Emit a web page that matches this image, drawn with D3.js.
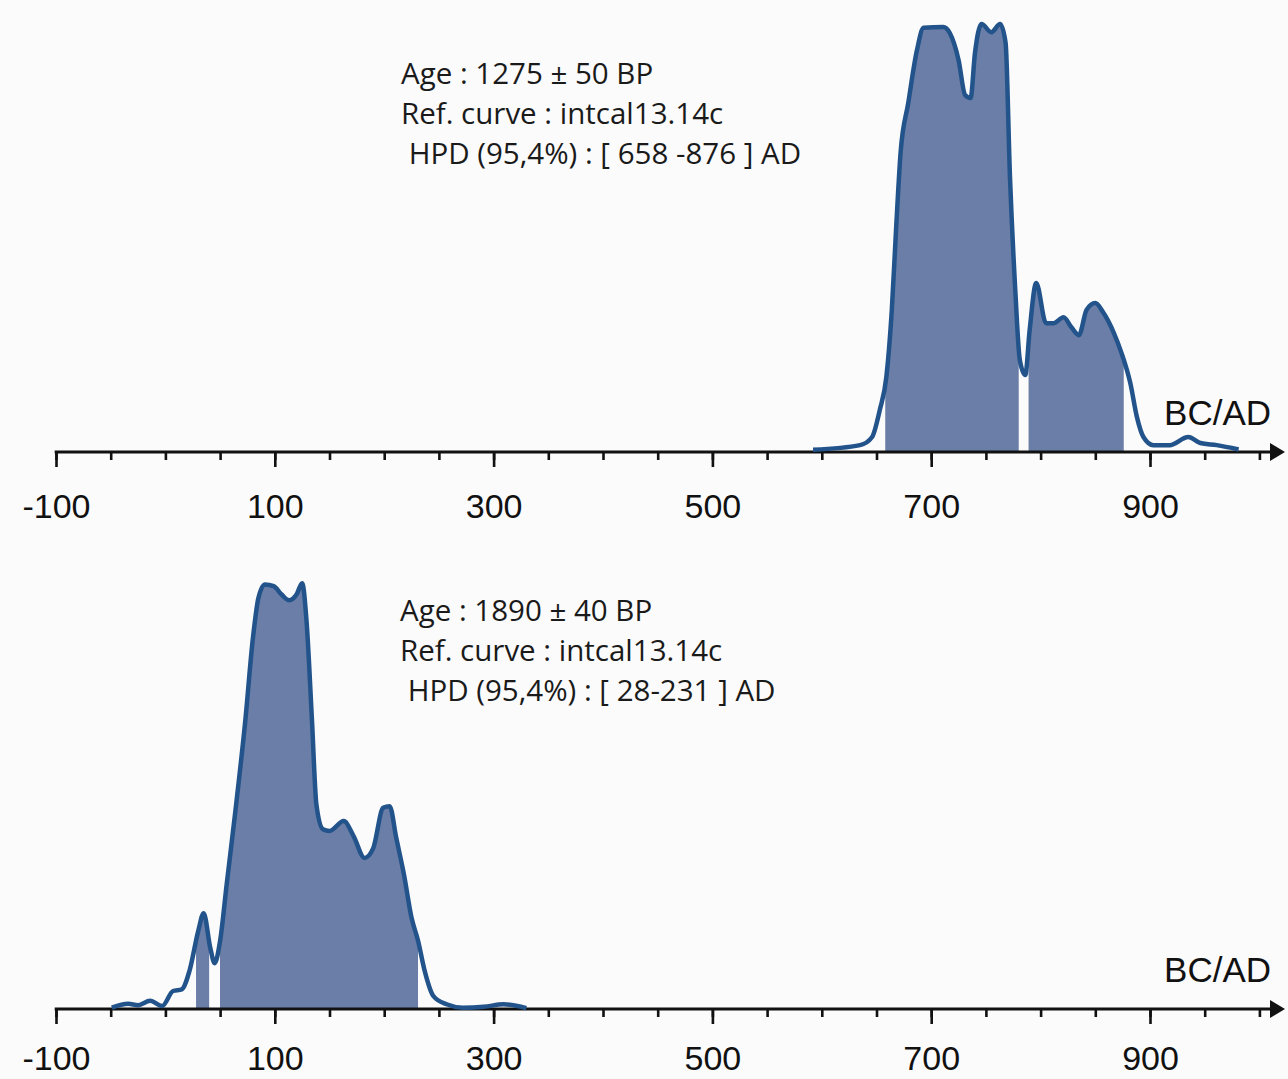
<!DOCTYPE html>
<html>
<head>
<meta charset="utf-8">
<script src="https://cdn.jsdelivr.net/npm/d3@7"></script>
<style>
  html, body { margin: 0; padding: 0; background: #fbfbfb; }
  svg { display: block; }
  .tick text { font-family: "Liberation Sans", Arial, sans-serif; }
</style>
</head>
<body>
<script>
// calibrated dates (AD), relative probability
const topYears   = [592, 635, 646, 653, 659, 664, 668, 672, 679, 687, 693, 711, 717, 725, 731, 736, 740, 746, 755, 763, 768, 772, 777, 781, 786, 790, 796, 805, 812, 821, 828, 835, 842, 850, 857, 867, 874, 882, 888, 894, 903, 918, 935, 946, 961, 981];
const topDensity = [0.5, 1.6, 3.5, 9.8, 17.5, 33.2, 52.6, 69.9, 81.5, 93.9, 99.1, 99.3, 97.9, 91.6, 83.4, 82.7, 93.2, 100, 98.1, 100, 95.6, 64.3, 37.1, 21.5, 18.0, 28.5, 39.5, 30.1, 30.1, 31.5, 29.2, 27.3, 33.2, 34.8, 32.7, 27.8, 23.1, 16.1, 8.2, 3.5, 1.6, 1.6, 3.5, 2.1, 1.6, 0.6];
const topHpd     = [[658, 780], [789, 876]];
const topLines   = ["Age : 1275 \u00b1 50 BP", "Ref. curve : intcal13.14c", " HPD (95,4%) : [ 658 -876 ] AD"];

const bottomYears   = [-49, -34, -25, -14, -3, 7, 15, 22, 30, 35, 41, 45, 50, 56, 64, 73, 80, 85, 91, 99, 106, 113, 120, 125, 129, 134, 138, 144, 150, 163, 172, 182, 190, 199, 205, 211, 218, 225, 231, 237, 245, 257, 272, 291, 309, 330];
const bottomDensity = [0.3, 1.2, 0.9, 1.9, 0.7, 4.2, 4.6, 8.9, 18.2, 22.4, 14.3, 10.7, 15.9, 29.1, 46.3, 67.3, 86.7, 96.0, 99.2, 98.8, 96.9, 95.5, 96.9, 99.5, 90.7, 67.3, 47.8, 42.0, 41.6, 43.9, 40.4, 35.3, 37.6, 47.0, 47.4, 40.0, 31.5, 21.3, 15.9, 8.9, 3.0, 1.1, 0.3, 0.5, 1.1, 0.2];
const bottomHpd     = [[28, 40], [50, 231]];
const bottomLines   = ["Age : 1890 \u00b1 40 BP", "Ref. curve : intcal13.14c", " HPD (95,4%) : [ 28-231 ] AD"];

const minorTicks = d3.range(-100, 1001, 50);
const majorTicks = [-100, 100, 300, 500, 700, 900];

const width = 1288, height = 1079;
const svg = d3.select("body").append("svg").attr("width", width).attr("height", height);

const x = d3.scaleLinear().domain([-100, 1000]).range([56, 1259.4]);

const panels = [
  {id: "top",    axisY: 452,  years: topYears,    density: topDensity,    hpd: topHpd,    lines: topLines,    textX: 401, textY: 84,  pad: 27},
  {id: "bottom", axisY: 1009, years: bottomYears, density: bottomDensity, hpd: bottomHpd, lines: bottomLines, textX: 400, textY: 621, pad: 22}
];

const strokeColor = "#22538a";
const fillColor   = "#6b7ea7";

panels.forEach(p => {
  const y = d3.scaleLinear().domain([0, 100]).range([p.axisY, p.axisY - 428]);
  const pts = p.years.map((yr, i) => [yr, p.density[i]]);
  const g = svg.append("g").attr("class", p.id);

  const area = d3.area().x(d => x(d[0])).y0(y(0)).y1(d => y(d[1])).curve(d3.curveMonotoneX);
  const line = d3.line().x(d => x(d[0])).y(d => y(d[1])).curve(d3.curveMonotoneX);

  // HPD intervals: the area clipped to each interval
  p.hpd.forEach(([a, b], i) => {
    const cid = `clip-${p.id}-${i}`;
    svg.append("clipPath").attr("id", cid)
      .append("rect")
      .attr("x", x(a)).attr("width", x(b) - x(a))
      .attr("y", 0).attr("height", height);
    g.append("path").datum(pts)
      .attr("d", area)
      .attr("fill", fillColor)
      .attr("clip-path", `url(#${cid})`);
  });

  // axis: minor + major ticks
  const minor = g.append("g").attr("transform", `translate(0,${p.axisY})`)
    .call(d3.axisBottom(x).tickValues(minorTicks).tickSize(8).tickFormat(""));
  const major = g.append("g").attr("transform", `translate(0,${p.axisY})`)
    .call(d3.axisBottom(x).tickValues(majorTicks).tickSize(15).tickPadding(p.pad).tickFormat(d => String(d)));
  [minor, major].forEach(ax => {
    ax.select(".domain").remove();
    ax.selectAll(".tick line").attr("stroke", "#111").attr("stroke-width", 2.6);
  });
  major.selectAll(".tick text").attr("font-size", 34).attr("fill", "#111");

  // axis line with arrow
  g.append("line")
    .attr("x1", x(-100) - 1.3).attr("x2", 1274)
    .attr("y1", p.axisY).attr("y2", p.axisY)
    .attr("stroke", "#111").attr("stroke-width", 2.8);
  g.append("path")
    .attr("d", `M1270,${p.axisY - 9}L1285,${p.axisY}L1270,${p.axisY + 9}Z`)
    .attr("fill", "#111");

  g.append("text")
    .attr("x", 1271).attr("y", p.axisY - 27)
    .attr("text-anchor", "end")
    .attr("font-family", "Liberation Sans, Arial, sans-serif")
    .attr("font-size", 35).attr("fill", "#111")
    .text("BC/AD");

  // density curve
  g.append("path").datum(pts)
    .attr("d", line)
    .attr("fill", "none")
    .attr("stroke", strokeColor)
    .attr("stroke-width", 4.5)
    .attr("stroke-linejoin", "round");

  // annotation
  g.append("g").selectAll("text").data(p.lines).join("text")
    .attr("x", p.textX).attr("y", (d, i) => p.textY + i * 40)
    .attr("font-family", "Open Sans, sans-serif")
    .attr("font-size", 29.5).attr("fill", "#1a1a1a")
    .attr("xml:space", "preserve")
    .style("white-space", "pre")
    .text(d => d);
});
</script>
</body>
</html>
